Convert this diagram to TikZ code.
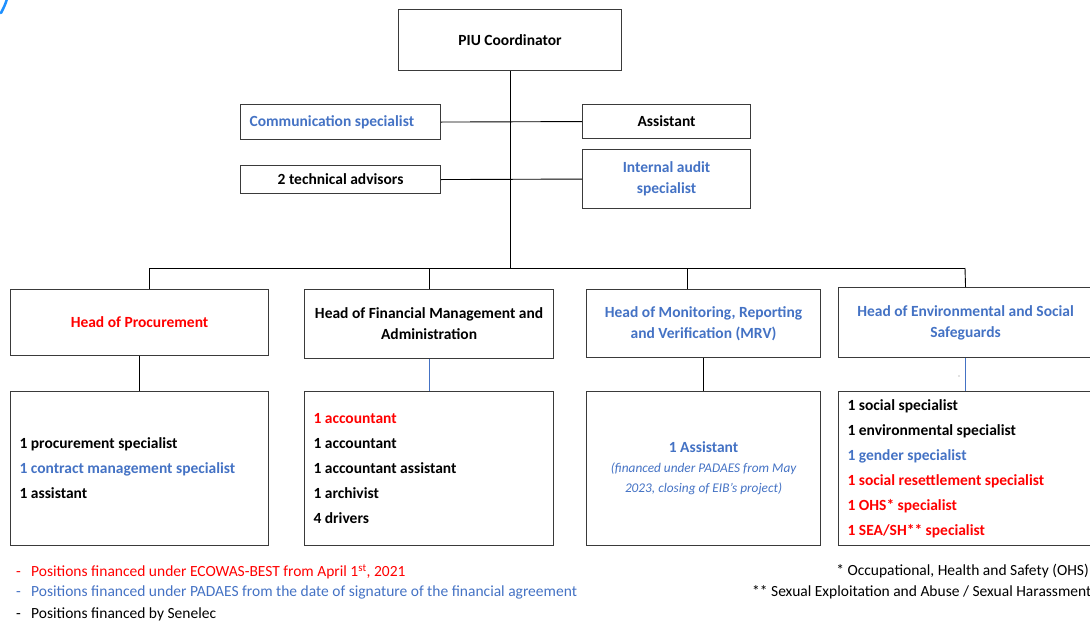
\documentclass[tikz,border=0pt]{standalone}
\usepackage{fontspec}
\setmainfont{Carlito}
\usetikzlibrary{positioning}
\definecolor{padaesblue}{HTML}{4472C4}
\definecolor{bestred}{HTML}{FF0000}
\definecolor{boxgray}{HTML}{3A3A3A}
\definecolor{cornerblue}{HTML}{1E90FF}
\tikzset{
  unitbox/.style={draw=boxgray, line width=1.1pt, anchor=north west, inner sep=0pt,
    align=center, font=\fontsize{15.5}{21}\selectfont\bfseries},
  staffbox/.style={unitbox, align=flush left, inner xsep=9pt, minimum height=154pt,
    font=\fontsize{15.5}{25}\selectfont\bfseries},
  link/.style={line width=0.9pt, draw=black},
  padlink/.style={line width=0.7pt, draw=padaesblue},
  legend/.style={anchor=west, inner sep=0pt, font=\fontsize{15.5}{18}\selectfont},
}
\begin{document}
\begin{tikzpicture}[x=1pt,y=-1pt]
  \useasboundingbox (0,0) rectangle (1090,627);
  \clip (0,0) rectangle (1090,627);

  % Drawing corner mark
  \draw [cornerblue, line width=2.5pt, line cap=round] (7,-1) .. controls (5,5) .. (1,13);%

  % Drawing top boxes
  \node [unitbox, minimum width=223pt, minimum height=61pt] (piu) at (398,9) {PIU Coordinator};%
  \node [unitbox, text width=182pt, inner xsep=9pt, align=flush left, minimum height=35pt, text=padaesblue] (comm) at (240,104) {Communication specialist};%
  \node [unitbox, minimum width=200pt, minimum height=28pt] (tech) at (240,165) {2 technical advisors};%
  \node [unitbox, minimum width=168pt, minimum height=34pt] (asst) at (582,104) {Assistant};%
  \node [unitbox, minimum width=168pt, minimum height=59pt, text=padaesblue] (audit) at (582,149) {Internal audit\\specialist};%

  % Drawing head boxes
  \node [unitbox, minimum width=258pt, minimum height=66pt, text=bestred] (proc) at (10,289) {Head of Procurement};%
  \node [unitbox, minimum width=249pt, minimum height=69pt] (fin) at (304,289) {Head of Financial Management and\\Administration};%
  \node [unitbox, minimum width=234pt, minimum height=68pt, text=padaesblue] (mrv) at (586,289) {Head of Monitoring, Reporting\\and Verification (MRV)};%
  \node [unitbox, minimum width=254pt, minimum height=70pt, text=padaesblue] (ess) at (838,287) {Head of Environmental and Social\\Safeguards};%

  % Drawing staff boxes
  \node [staffbox, text width=240pt] (procstaff) at (10,391) {1 procurement specialist\\
    \textcolor{padaesblue}{1 contract management specialist}\\
    1 assistant};%
  \node [staffbox, text width=231pt] (finstaff) at (304,391) {\textcolor{bestred}{1 accountant}\\
    1 accountant\\
    1 accountant assistant\\
    1 archivist\\
    4 drivers};%
  \node [staffbox, text width=216pt, align=flush center, text=padaesblue] (mrvstaff) at (586,391) {1 Assistant\par
    {\fontsize{13.3}{20}\selectfont\mdseries\itshape (financed under PADAES from May\\2023, closing of EIB’s project)\par}};%
  \node [staffbox, text width=236pt] (essstaff) at (838,391) {1 social specialist\\
    1 environmental specialist\\
    \textcolor{padaesblue}{1 gender specialist}\\
    \textcolor{bestred}{1 social resettlement specialist}\\
    \textcolor{bestred}{1 OHS* specialist}\\
    \textcolor{bestred}{1 SEA/SH** specialist}};%

  % Drawing links
  \coordinate (busL) at (149,268);
  \coordinate (busR) at (965,268);
  \draw [link] (piu.south) -- (piu.south |- busL);%
  \draw [link] (comm.east) -- (asst.west);%
  \draw [link] (tech.east) -- (audit.west);%
  \draw [link] (busL) -- (busR);%
  \draw [link] (busL) -- (busL |- proc.north);%
  \draw [link] (fin.north) -- (fin.north |- busL);%
  \draw [link] ([xshift=-16pt]mrv.north) -- ([xshift=-16pt]mrv.north |- busL);%
  \draw [link] (ess.north) -- (busR);%
  \draw [link] (proc.south) -- (procstaff.north);%
  \draw [padlink] (fin.south) -- (finstaff.north);%
  \draw [link] (mrv.south) -- (mrvstaff.north);%
  \draw [padlink] (ess.south) -- (essstaff.north);%
  \fill [gray] (959,376) circle (0.7pt);%

  % Marking legend
  \node [legend, text=bestred] (keyred) at (16,572) {\makebox[15pt][l]{-}Positions financed under ECOWAS-BEST from April 1\textsuperscript{st}, 2021};%
  \node [legend, text=padaesblue] (keyblue) at (16,592) {\makebox[15pt][l]{-}Positions financed under PADAES from the date of signature of the financial agreement};%
  \node [legend] (keyblack) at (16,614) {\makebox[15pt][l]{-}Positions financed by Senelec};%

  % Marking footnotes
  \node [legend, anchor=east] (ohs) at (1089,571) {* Occupational, Health and Safety (OHS)};%
  \node [legend] (seash) at (752,592) {** Sexual Exploitation and Abuse / Sexual Harassment};%
\end{tikzpicture}
\end{document}
